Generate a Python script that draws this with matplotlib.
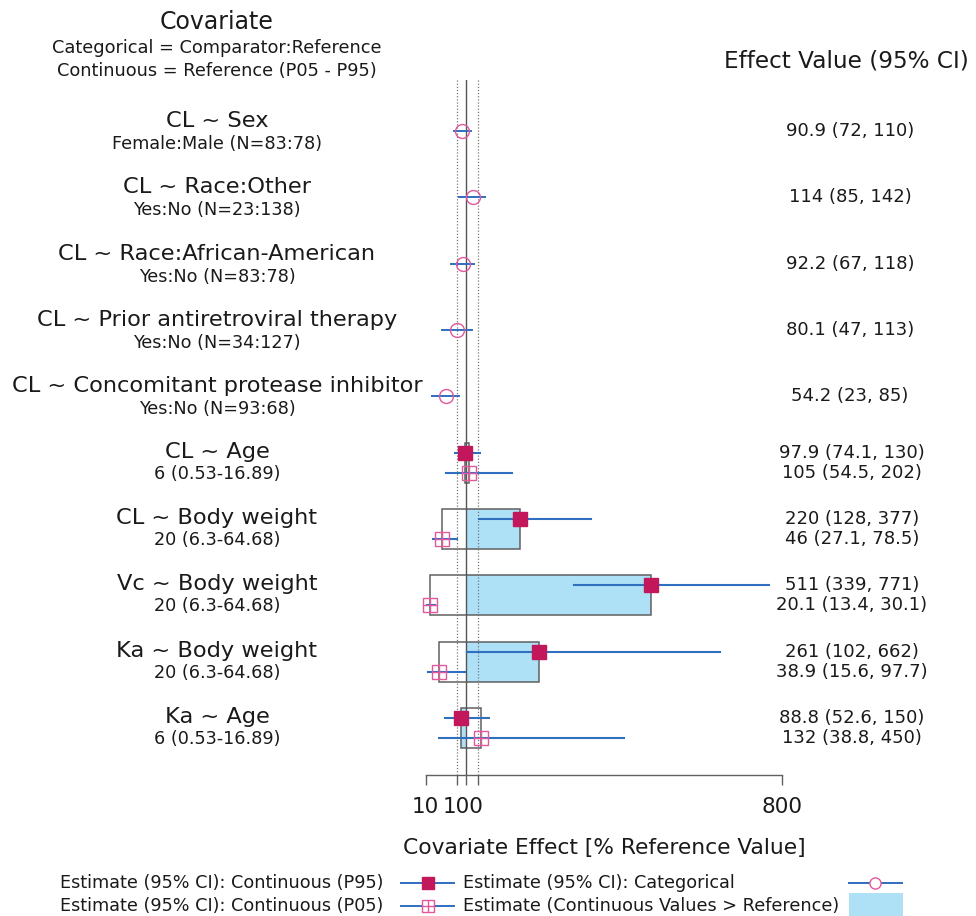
import matplotlib
matplotlib.use("Agg")
import matplotlib.pyplot as plt
from matplotlib.patches import Rectangle
from matplotlib.lines import Line2D
from matplotlib.transforms import ScaledTranslation

# ---------------- data ----------------
cat_labels = ["CL ~ Sex", "CL ~ Race:Other", "CL ~ Race:African-American",
              "CL ~ Prior antiretroviral therapy", "CL ~ Concomitant protease inhibitor"]
cat_sub = ["Female:Male (N=83:78)", "Yes:No (N=23:138)", "Yes:No (N=83:78)",
           "Yes:No (N=34:127)", "Yes:No (N=93:68)"]
cat_est = [90.9, 114, 92.2, 80.1, 54.2]
cat_lo = [72, 85, 67, 47, 23]
cat_hi = [110, 142, 118, 113, 85]

cont_labels = ["CL ~ Age", "CL ~ Body weight", "Vc ~ Body weight", "Ka ~ Body weight", "Ka ~ Age"]
cont_sub = ["6 (0.53-16.89)", "20 (6.3-64.68)", "20 (6.3-64.68)", "20 (6.3-64.68)", "6 (0.53-16.89)"]
p95_est = [97.9, 220, 511, 261, 88.8]
p95_lo = [74.1, 128, 339, 102, 52.6]
p95_hi = [130, 377, 771, 662, 150]
p05_est = [105, 46, 20.1, 38.9, 132]
p05_lo = [54.5, 27.1, 13.4, 15.6, 38.8]
p05_hi = [202, 78.5, 30.1, 97.7, 450]

ref_value = 100
bounds = [80, 125]
xticks = [10, 80, 100, 125, 800]
xticklabels = ["10", "", "100", "", "800"]

# ---------------- style ----------------
W, H = 976, 916
C_LINE = "#2f6fc0"
C_FILL_SQ = "#c2185b"
C_OPEN = "#e2589a"
C_BAR = "#aee0f6"
C_EDGE = "#606060"
C_TXT = "#1a1a1a"
FONT = "DejaVu Sans"
plt.rcParams["font.family"] = [FONT]

fig = plt.figure(figsize=(W / 100, H / 100), dpi=100)
fig.patch.set_facecolor("white")

# overlay axes in pixel coordinates for text layout
ov = fig.add_axes([0, 0, 1, 1])
ov.set_xlim(0, W)
ov.set_ylim(H, 0)
ov.axis("off")

# main axes
x0px, x1px = 425.7, 781.7
ytop, ybot = 80, 775
ax = fig.add_axes([x0px / W, (H - ybot) / H, (x1px - x0px) / W, (ybot - ytop) / H])
ax.set_facecolor("none")
row_h = 66.33
row0 = 131
ax.set_xlim(10, 800)
ax.set_ylim((ybot - row0) / row_h, (ytop - row0) / row_h)

for s in ["top", "left", "right"]:
    ax.spines[s].set_visible(False)
ax.spines["bottom"].set_color(C_EDGE)
ax.spines["bottom"].set_linewidth(1.0)
ax.set_yticks([])
ax.set_xticks(xticks)
ax.set_xticklabels(xticklabels, fontsize=15.5, color=C_TXT)
ax.tick_params(axis="x", direction="out", length=7.2, width=1.0, color=C_EDGE, pad=8.5)
# nudge the "100" label slightly left (as in the reference, where it sits next to "10")
lbl100 = ax.get_xticklabels()[2]
lbl100.set_transform(lbl100.get_transform() + ScaledTranslation(-3 / 100, 0, fig.dpi_scale_trans))

n_cat = len(cat_labels)
off = 0.15
half = 0.30

# continuous rectangles
for i in range(len(cont_labels)):
    yc = n_cat + i
    lo = min(p95_est[i], p05_est[i])
    hi = max(p95_est[i], p05_est[i])
    f0 = min(ref_value, p95_est[i])
    f1 = max(ref_value, p95_est[i])
    ax.add_patch(Rectangle((f0, yc - half), f1 - f0, 2 * half, facecolor=C_BAR,
                           edgecolor="none", zorder=1))
    ax.add_patch(Rectangle((lo, yc - half), hi - lo, 2 * half, facecolor="none",
                           edgecolor=C_EDGE, linewidth=1.1, zorder=2))

# reference lines
ax.axvline(ref_value, color="#555555", lw=1.0, zorder=3)
for b in bounds:
    ax.axvline(b, color="#777777", lw=0.9, ls=(0, (1, 1.5)), zorder=3)

# categorical
for i in range(n_cat):
    ax.plot([cat_lo[i], cat_hi[i]], [i, i], color=C_LINE, lw=1.4, zorder=4, clip_on=False)
    ax.plot(cat_est[i], i, marker="o", ms=10, mfc="none", mec=C_OPEN, mew=1.0,
            zorder=5, clip_on=False)

# continuous
for i in range(len(cont_labels)):
    yc = n_cat + i
    ax.plot([p95_lo[i], p95_hi[i]], [yc - off, yc - off], color=C_LINE, lw=1.5, zorder=4, clip_on=False)
    ax.plot(p95_est[i], yc - off, marker="s", ms=10, mfc=C_FILL_SQ, mec=C_FILL_SQ, mew=1.0,
            zorder=5, clip_on=False)
    ax.plot([p05_lo[i], p05_hi[i]], [yc + off, yc + off], color=C_LINE, lw=1.5, zorder=4, clip_on=False)
    ax.plot(p05_est[i], yc + off, marker="s", ms=9.5, mfc="none", mec=C_OPEN, mew=1.0,
            zorder=5, clip_on=False)
    ax.plot(p05_est[i], yc + off, marker="+", ms=9.5, mec=C_OPEN, mew=1.0,
            zorder=5, clip_on=False)

# ---------------- texts ----------------
lab_x = 217
val_x = 850
fs_main, fs_sub, fs_val = 16.2, 12.7, 13.0
for i in range(n_cat):
    yc = row0 + i * row_h
    ov.text(lab_x, yc - 10, cat_labels[i], ha="center", va="center", fontsize=fs_main, color=C_TXT)
    ov.text(lab_x, yc + 13, cat_sub[i], ha="center", va="center", fontsize=fs_sub, color=C_TXT)
    ov.text(val_x, yc, f"{cat_est[i]:g} ({cat_lo[i]:g}, {cat_hi[i]:g})", ha="center",
            va="center", fontsize=fs_val, color=C_TXT)
for i in range(len(cont_labels)):
    yc = row0 + (n_cat + i) * row_h
    ov.text(lab_x, yc - 11, cont_labels[i], ha="center", va="center", fontsize=fs_main, color=C_TXT)
    ov.text(lab_x, yc + 11, cont_sub[i], ha="center", va="center", fontsize=fs_sub, color=C_TXT)
    ov.text(val_x + 2, yc - 10, f"{p95_est[i]:g} ({p95_lo[i]:g}, {p95_hi[i]:g})", ha="center",
            va="center", fontsize=fs_val, color=C_TXT)
    ov.text(val_x + 2, yc + 10, f"{p05_est[i]:g} ({p05_lo[i]:g}, {p05_hi[i]:g})", ha="center",
            va="center", fontsize=fs_val, color=C_TXT)

ov.text(lab_x, 22, "Covariate", ha="center", va="center", fontsize=17, color=C_TXT)
ov.text(lab_x, 48, "Categorical = Comparator:Reference", ha="center", va="center", fontsize=12.8, color=C_TXT)
ov.text(lab_x, 71, "Continuous = Reference (P05 - P95)", ha="center", va="center", fontsize=12.8, color=C_TXT)
ov.text(724, 61, "Effect Value (95% CI)", ha="left", va="center", fontsize=16.7, color=C_TXT)

ov.text(604, 848, "Covariate Effect [% Reference Value]", ha="center", va="center", fontsize=15.7, color=C_TXT)

# ---------------- legend ----------------
lf = 12.7
ov.text(383, 883, "Estimate (95% CI): Continuous (P95)", ha="right", va="center", fontsize=lf, color=C_TXT)
ov.text(383, 906, "Estimate (95% CI): Continuous (P05)", ha="right", va="center", fontsize=lf, color=C_TXT)
ov.text(463, 883, "Estimate (95% CI): Categorical", ha="left", va="center", fontsize=lf, color=C_TXT)
ov.text(463, 906, "Estimate (Continuous Values > Reference)", ha="left", va="center", fontsize=lf, color=C_TXT)

ov.add_line(Line2D([401, 454], [883, 883], color=C_LINE, lw=1.4))
ov.add_line(Line2D([428], [883], marker="s", ms=8, mfc=C_FILL_SQ, mec=C_FILL_SQ, ls="none"))
ov.add_line(Line2D([401, 454], [906, 906], color=C_LINE, lw=1.4))
ov.add_line(Line2D([428], [906], marker="s", ms=8, mfc="white", mec=C_OPEN, mew=1.0, ls="none"))
ov.add_line(Line2D([428], [906], marker="+", ms=8, mec=C_OPEN, mew=1.0, ls="none"))
ov.add_line(Line2D([849, 902], [883, 883], color=C_LINE, lw=1.4))
ov.add_line(Line2D([875], [883], marker="o", ms=8, mfc="white", mec=C_OPEN, mew=1.0, ls="none"))
ov.add_patch(Rectangle((849, 893), 54, 25, facecolor=C_BAR, edgecolor="none"))

fig.savefig("out.png", dpi=100, facecolor="white")
